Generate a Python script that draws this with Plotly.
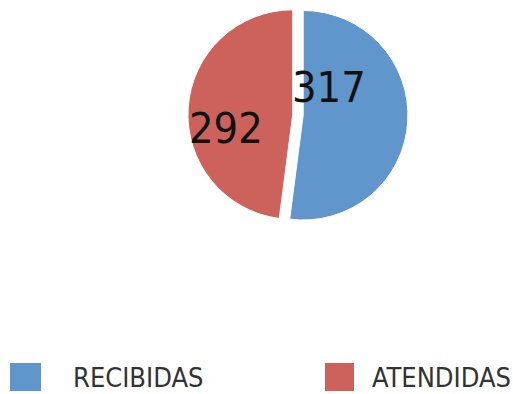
import plotly.graph_objects as go

# Data
categories = ["RECIBIDAS", "ATENDIDAS"]
values = [317, 292]
colors = ["#6096CB", "#CD625C"]

W, H = 513, 394
font_family = "DejaVu Sans Condensed, DejaVu Sans, sans-serif"

fig = go.Figure()
fig.add_trace(go.Pie(
    labels=categories,
    values=values,
    sort=False,
    direction="clockwise",
    rotation=0,
    pull=[0, 0.1],
    marker=dict(colors=colors, line=dict(color="white", width=1)),
    textinfo="none",
    hoverinfo="label+value",
    showlegend=False,
    domain=dict(x=[0.366, 0.816], y=[0.415, 1.0]),
))

# Value labels on the slices
label_pos = [(329 / W, 1 - 87 / H), (226 / W, 1 - 128 / H)]
for v, (lx, ly) in zip(values, label_pos):
    fig.add_annotation(
        x=lx, y=ly, xref="paper", yref="paper",
        text=str(v), showarrow=False,
        font=dict(family=font_family, size=43, color="#111111"),
        xanchor="center", yanchor="middle",
    )

# Legend drawn as swatches + text along the bottom
legend_items = [
    (10, 41, 72),
    (325, 354, 371),
]
for (x0, x1, tx), name, col in zip(legend_items, categories, colors):
    fig.add_shape(
        type="rect", xref="paper", yref="paper",
        x0=x0 / W, x1=x1 / W, y0=1 - 391 / H, y1=1 - 363 / H,
        fillcolor=col, line=dict(width=0),
    )
    fig.add_annotation(
        x=tx / W, y=0, xref="paper", yref="paper",
        text=name, showarrow=False,
        font=dict(family=font_family, size=27, color="#333333"),
        xanchor="left", yanchor="bottom",
        borderpad=0,
    )

fig.update_layout(
    width=W, height=H,
    margin=dict(l=0, r=0, t=0, b=0),
    paper_bgcolor="white",
    plot_bgcolor="white",
)

fig.write_html("out.html")
